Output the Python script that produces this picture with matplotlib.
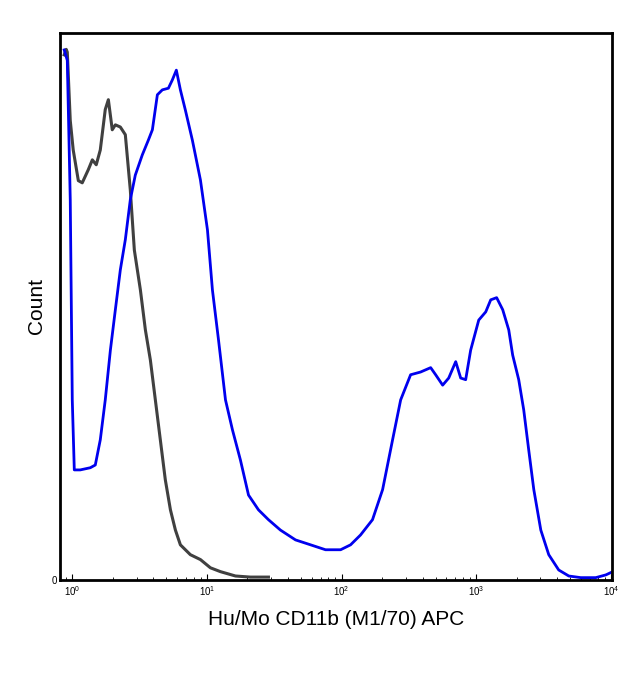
import matplotlib.pyplot as plt
from matplotlib.ticker import LogLocator, NullFormatter
import numpy as np

plt.rcParams['font.family'] = ['Liberation Sans', 'DejaVu Sans']

# control (grey) histogram: log10 of fluorescence, % of max count
grey_log = [-0.06, -0.045, -0.037, -0.015, 0.007, 0.045, 0.074, 0.119, 0.149, 0.178, 0.208,
            0.245, 0.268, 0.297, 0.32, 0.357, 0.394, 0.431, 0.461, 0.506, 0.543, 0.58, 0.617,
            0.654, 0.691, 0.729, 0.766, 0.803, 0.877, 0.952, 1.026, 1.1, 1.212, 1.323, 1.457]
grey_cnt = [96, 97, 96.5, 84, 78.6, 73, 72.6, 75, 76.8, 75.9, 78.6, 86, 87.8, 82.3, 83.2,
            82.8, 81.4, 71.3, 60.3, 53, 45.7, 40.2, 32.9, 25.6, 18.3, 12.8, 9.1, 6.4, 4.6,
            3.7, 2.2, 1.5, 0.7, 0.5, 0.5]

# stained (blue) histogram
blue_log = [-0.06, -0.037, -0.015, 0, 0.015, 0.059, 0.134, 0.171, 0.208, 0.245, 0.283, 0.32,
            0.357, 0.394, 0.431, 0.468, 0.52, 0.565, 0.595, 0.632, 0.669, 0.714, 0.743, 0.773,
            0.803, 0.84, 0.892, 0.952, 1.004, 1.041, 1.086, 1.138, 1.19, 1.249, 1.309, 1.383,
            1.457, 1.546, 1.658, 1.77, 1.881, 1.993, 2.067, 2.141, 2.23, 2.305, 2.379, 2.439,
            2.513, 2.587, 2.662, 2.699, 2.751, 2.796, 2.848, 2.885, 2.922, 2.959, 3.019, 3.071,
            3.108, 3.152, 3.197, 3.242, 3.271, 3.316, 3.353, 3.39, 3.428, 3.48, 3.539, 3.613,
            3.688, 3.777, 3.888, 3.963, 4.015]
blue_cnt = [96.9, 95, 69.5, 32.9, 20.1, 20.1, 20.5, 21, 25.6, 32.9, 42, 49.4, 56.7, 62.2, 69.5,
            74, 77.7, 80.4, 82.3, 88.7, 89.6, 89.9, 91.4, 93.2, 89.6, 85.9, 80.4, 73.1, 64, 53,
            43.9, 32.9, 27.4, 21.9, 15.5, 12.8, 11, 9.1, 7.3, 6.4, 5.5, 5.5, 6.4, 8.2, 11, 16.5,
            25.6, 32.9, 37.5, 38, 38.8, 37.5, 35.6, 36.9, 39.9, 36.9, 36.6, 42, 47.5, 49, 51.2,
            51.6, 49.4, 45.7, 41.1, 36.6, 31.1, 23.8, 16.5, 9.1, 4.6, 1.8, 0.7, 0.4, 0.4, 0.9, 1.5]

fig = plt.figure(figsize=(6.4, 6.87), dpi=100)
ax = fig.add_axes([0.094, 0.156, 0.8625, 0.796])

ax.plot(10 ** np.array(grey_log), grey_cnt, color='#404040', lw=2.2)
ax.plot(10 ** np.array(blue_log), blue_cnt, color='#0000ee', lw=2)

ax.set_xscale('log')
ax.set_xlim(10 ** -0.09, 10 ** 4.01)
ax.set_ylim(0, 100)
ax.set_yticks([0])
ax.set_yticklabels(['0'], fontsize=7)
ax.xaxis.set_major_locator(LogLocator(base=10, numticks=10))
ax.xaxis.set_minor_locator(LogLocator(base=10, subs=np.arange(2, 10), numticks=50))
ax.xaxis.set_minor_formatter(NullFormatter())
ax.tick_params(axis='x', which='major', labelsize=7, length=4, direction='in')
ax.tick_params(axis='x', which='minor', length=2, direction='in')
ax.tick_params(axis='y', length=0, pad=2)
for s in ax.spines.values():
    s.set_linewidth(2)

ax.set_xlabel('Hu/Mo CD11b (M1/70) APC', fontsize=15, labelpad=8)
ax.set_ylabel('Count', fontsize=15, labelpad=4)

fig.savefig('out.png')
